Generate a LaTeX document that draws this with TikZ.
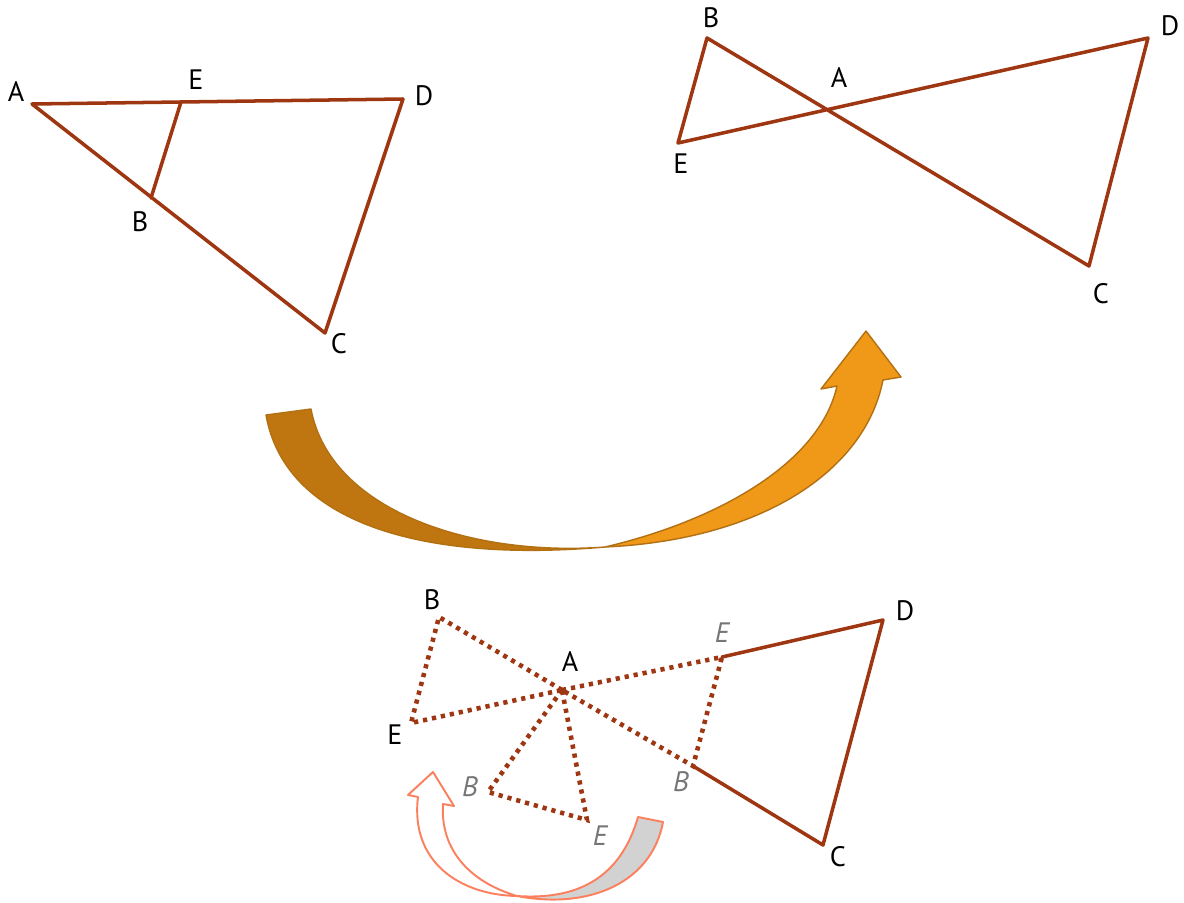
\documentclass[tikz,border=0pt]{standalone}
\usepackage{xcolor,tikz,fontspec}
\setmainfont{PT Sans}
\usetikzlibrary{calc}
\definecolor{rust}{RGB}{158,54,18}
\definecolor{amber}{RGB}{192,118,16}
\definecolor{gold}{RGB}{240,152,24}
\definecolor{amberline}{RGB}{178,112,18}
\definecolor{salmon}{RGB}{252,128,94}
\definecolor{shade}{RGB}{210,210,210}
\definecolor{ghost}{RGB}{118,118,118}
\tikzset{
  side/.style={draw=rust,line width=2pt,line cap=round,line join=round},
  dots/.style={draw=rust,line width=2.6pt,dash pattern=on 2.4pt off 2.8pt},
  lab/.style={font=\fontsize{16}{16}\selectfont,inner sep=0pt},
  moved/.style={lab,text=ghost,font=\fontsize{16}{16}\selectfont\itshape},
  band/.style={draw=amberline,line width=0.8pt,line join=round},
  flip/.style={draw=salmon,line width=1.1pt,line join=round}
}

\begin{document}
\begin{tikzpicture}[x=0.02cm,y=-0.02cm]
  \useasboundingbox (0,0) rectangle (1184,903);

  % first figure
  \coordinate (A1) at (32,104);
  \coordinate (E1) at (181,102);
  \coordinate (D1) at (403,99);
  \coordinate (B1) at (151,198);
  \coordinate (C1) at (325,333);
  \draw[side] (A1)--(D1)--(C1)--cycle;
  \draw[side] (B1)--(E1);
  \node[lab] (lA1) at (16,92) {A};
  \node[lab] (lE1) at (196,80) {E};
  \node[lab] (lD1) at (424,96) {D};
  \node[lab] (lB1) at (140,222) {B};
  \node[lab] (lC1) at (339,344) {C};

  % second figure
  \coordinate (B2) at (707,38);
  \coordinate (E2) at (678,143);
  \coordinate (D2) at (1148,38);
  \coordinate (C2) at (1089,266);
  \coordinate (A2) at (intersection of B2--C2 and E2--D2);
  \draw[side] (E2)--(B2)--(C2)--(D2)--cycle;
  \node[lab] (lB2) at (711,18) {B};
  \node[lab] (lA2) at (839,78) {A};
  \node[lab] (lD2) at (1170,26) {D};
  \node[lab] (lE2) at (681,164) {E};
  \node[lab] (lC2) at (1101,294) {C};

  % big arrow
  \filldraw[band,fill=amber] (266,415) .. controls (285,522) and (420,563) .. (605,547)
    .. controls (470,557) and (330,510) .. (311,409) -- cycle;
  \filldraw[band,fill=gold] (605,547) .. controls (720,520) and (820,462) .. (837,386)
    -- (821,389) -- (866,331) -- (901,377) -- (883,380)
    .. controls (865,472) and (760,540) .. (605,547) -- cycle;

  % third figure
  \coordinate (A3) at (562,690);
  \coordinate (B3) at (693,766);
  \coordinate (E3) at (722,657);
  \coordinate (D3) at (883,620);
  \coordinate (C3) at (823,845);
  \coordinate (Bp) at (439,617);
  \coordinate (Ep) at (411,723);
  \coordinate (Br) at (488,792);
  \coordinate (Er) at (587,820);
  \draw[side] (E3)--(D3)--(C3)--(B3);
  \draw[dots] (A3)--(E3)--(B3)--cycle;
  \draw[dots] (A3)--(Bp)--(Ep)--cycle;
  \draw[dots] (A3)--(Br)--(Er)--cycle;
  \node[lab] (lBp) at (432,600) {B};
  \node[lab] (lA3) at (570,661) {A};
  \node[moved] (lE3) at (722,633) {E};
  \node[lab] (lD3) at (905,611) {D};
  \node[lab] (lEp) at (395,735) {E};
  \node[moved] (lBr) at (470,787) {B};
  \node[moved] (lB3) at (681,782) {B};
  \node[moved] (lEr) at (600,836) {E};
  \node[lab] (lC3) at (838,857) {C};

  % small arrow
  \filldraw[flip,fill=shade] (638,817) .. controls (620,880) and (575,900) .. (517,896)
    .. controls (590,910) and (652,882) .. (663,822) -- cycle;
  \filldraw[flip,fill=white] (418,797) .. controls (410,862) and (460,895) .. (517,896)
    .. controls (470,882) and (440,850) .. (443,804) -- (454,806) -- (433,772) -- (408,795) -- cycle;
\end{tikzpicture}
\end{document}
